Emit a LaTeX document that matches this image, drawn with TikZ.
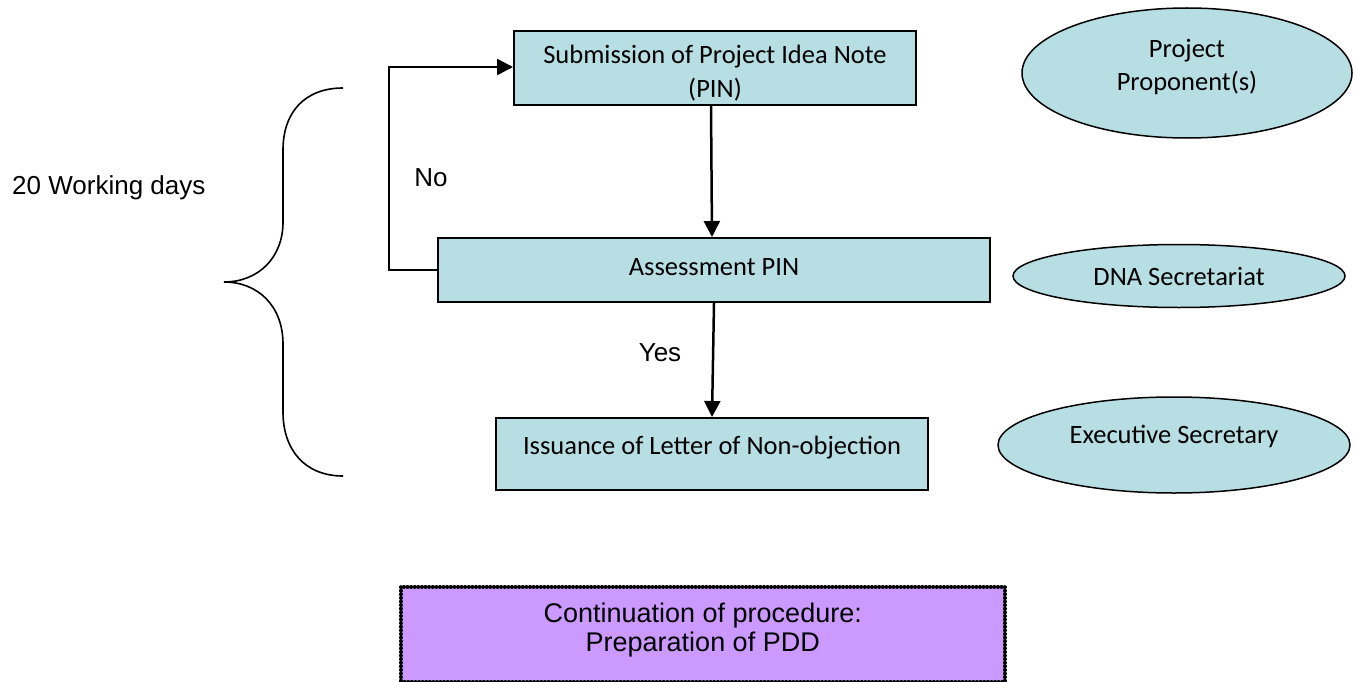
\documentclass[tikz,border=0pt]{standalone}
\usepackage{fontspec}
\setmainfont{Carlito}
\newfontfamily\arialfont{Liberation Sans}
\usetikzlibrary{shapes.geometric,arrows.meta}
\definecolor{boxblue}{HTML}{B7DEE3}
\definecolor{boxpurple}{HTML}{CC99FF}
\newcommand{\placetext}[2]{\raisebox{#1}[0pt][0pt]{#2}}
\tikzset{
  box/.style={draw=black, line width=2pt, fill=boxblue, anchor=north west, inner sep=0pt,
              align=center, font=\fontsize{26.5}{34}\selectfont},
  role/.style={ellipse, draw=black, line width=1.5pt, fill=boxblue, inner sep=0pt,
              align=center, font=\fontsize{26.5}{33}\selectfont},
  lbl/.style={font=\arialfont\fontsize{26}{30}\selectfont, inner sep=0pt, anchor=base},
  conn/.style={line width=2.5pt, draw=black},
  arr/.style={conn, -{Triangle[length=16pt, width=16pt]}},
}
\begin{document}
\begin{tikzpicture}[x=1pt, y=-1pt]
\useasboundingbox (0,0) rectangle (1356,682);
% process boxes
\node[box, minimum width=402pt, minimum height=74pt] (b1) at (513,30)
  {\placetext{-30pt}{\parbox[b]{390pt}{\centering Submission of Project Idea Note\\(PIN)}}};
\node[box, minimum width=552pt, minimum height=64pt] (b2) at (437,237)
  {\placetext{-5pt}{Assessment PIN}};
\node[box, minimum width=432pt, minimum height=72pt] (b3) at (495,417)
  {\placetext{0pt}{Issuance of Letter of Non-objection}};
% roles
\node[role, minimum width=330pt, minimum height=130pt] (r1) at (1187,73)
  {\placetext{-18pt}{\parbox[b]{150pt}{\centering Project\\Proponent(s)}}};
\node[role, minimum width=332pt, minimum height=63pt] (r2) at (1179,276)
  {\placetext{-9pt}{DNA Secretariat}};
\node[role, minimum width=352pt, minimum height=96pt] (r3) at (1174,445)
  {\placetext{2pt}{Executive Secretary}};
% continuation box
\node[draw=black, line width=3.5pt, dash pattern=on 0.4pt off 3.2pt, line cap=round,
      fill=boxpurple, minimum width=604pt, minimum height=95pt, inner sep=0pt,
      anchor=north west, align=center,
      font=\arialfont\fontsize{27}{29}\selectfont] (cont) at (399,585)
  {\placetext{-17pt}{\parbox[b]{500pt}{\centering Continuation of procedure:\\Preparation of PDD}}};
% connectors
\coordinate (c2) at (389,67);
\draw[arr] (b2.west) -| (c2) -- (c2 -| b1.west);
\draw[arr] ([xshift=-4pt]b1.south) -- ([xshift=-2pt]b2.north);
\draw[arr] (b2.south) -- (b3.north);
% labels
\node[lbl] (no) at (431,186) {No};
\node[lbl] (yes) at (660,361) {Yes};
\node[lbl, anchor=base west] (days) at (12,194) {20 Working days};
% brace
\coordinate (bt) at (343,88);
\coordinate (btip) at (224,282);
\coordinate (bb) at (343,476);
\draw[line width=1.6pt] (bt) .. controls (305,88) and (283,112) .. (283,150)
  -- (283,222) .. controls (283,258) and (258,282) .. (btip)
  .. controls (258,282) and (283,306) .. (283,344)
  -- (283,412) .. controls (283,450) and (305,476) .. (bb);
\end{tikzpicture}
\end{document}
